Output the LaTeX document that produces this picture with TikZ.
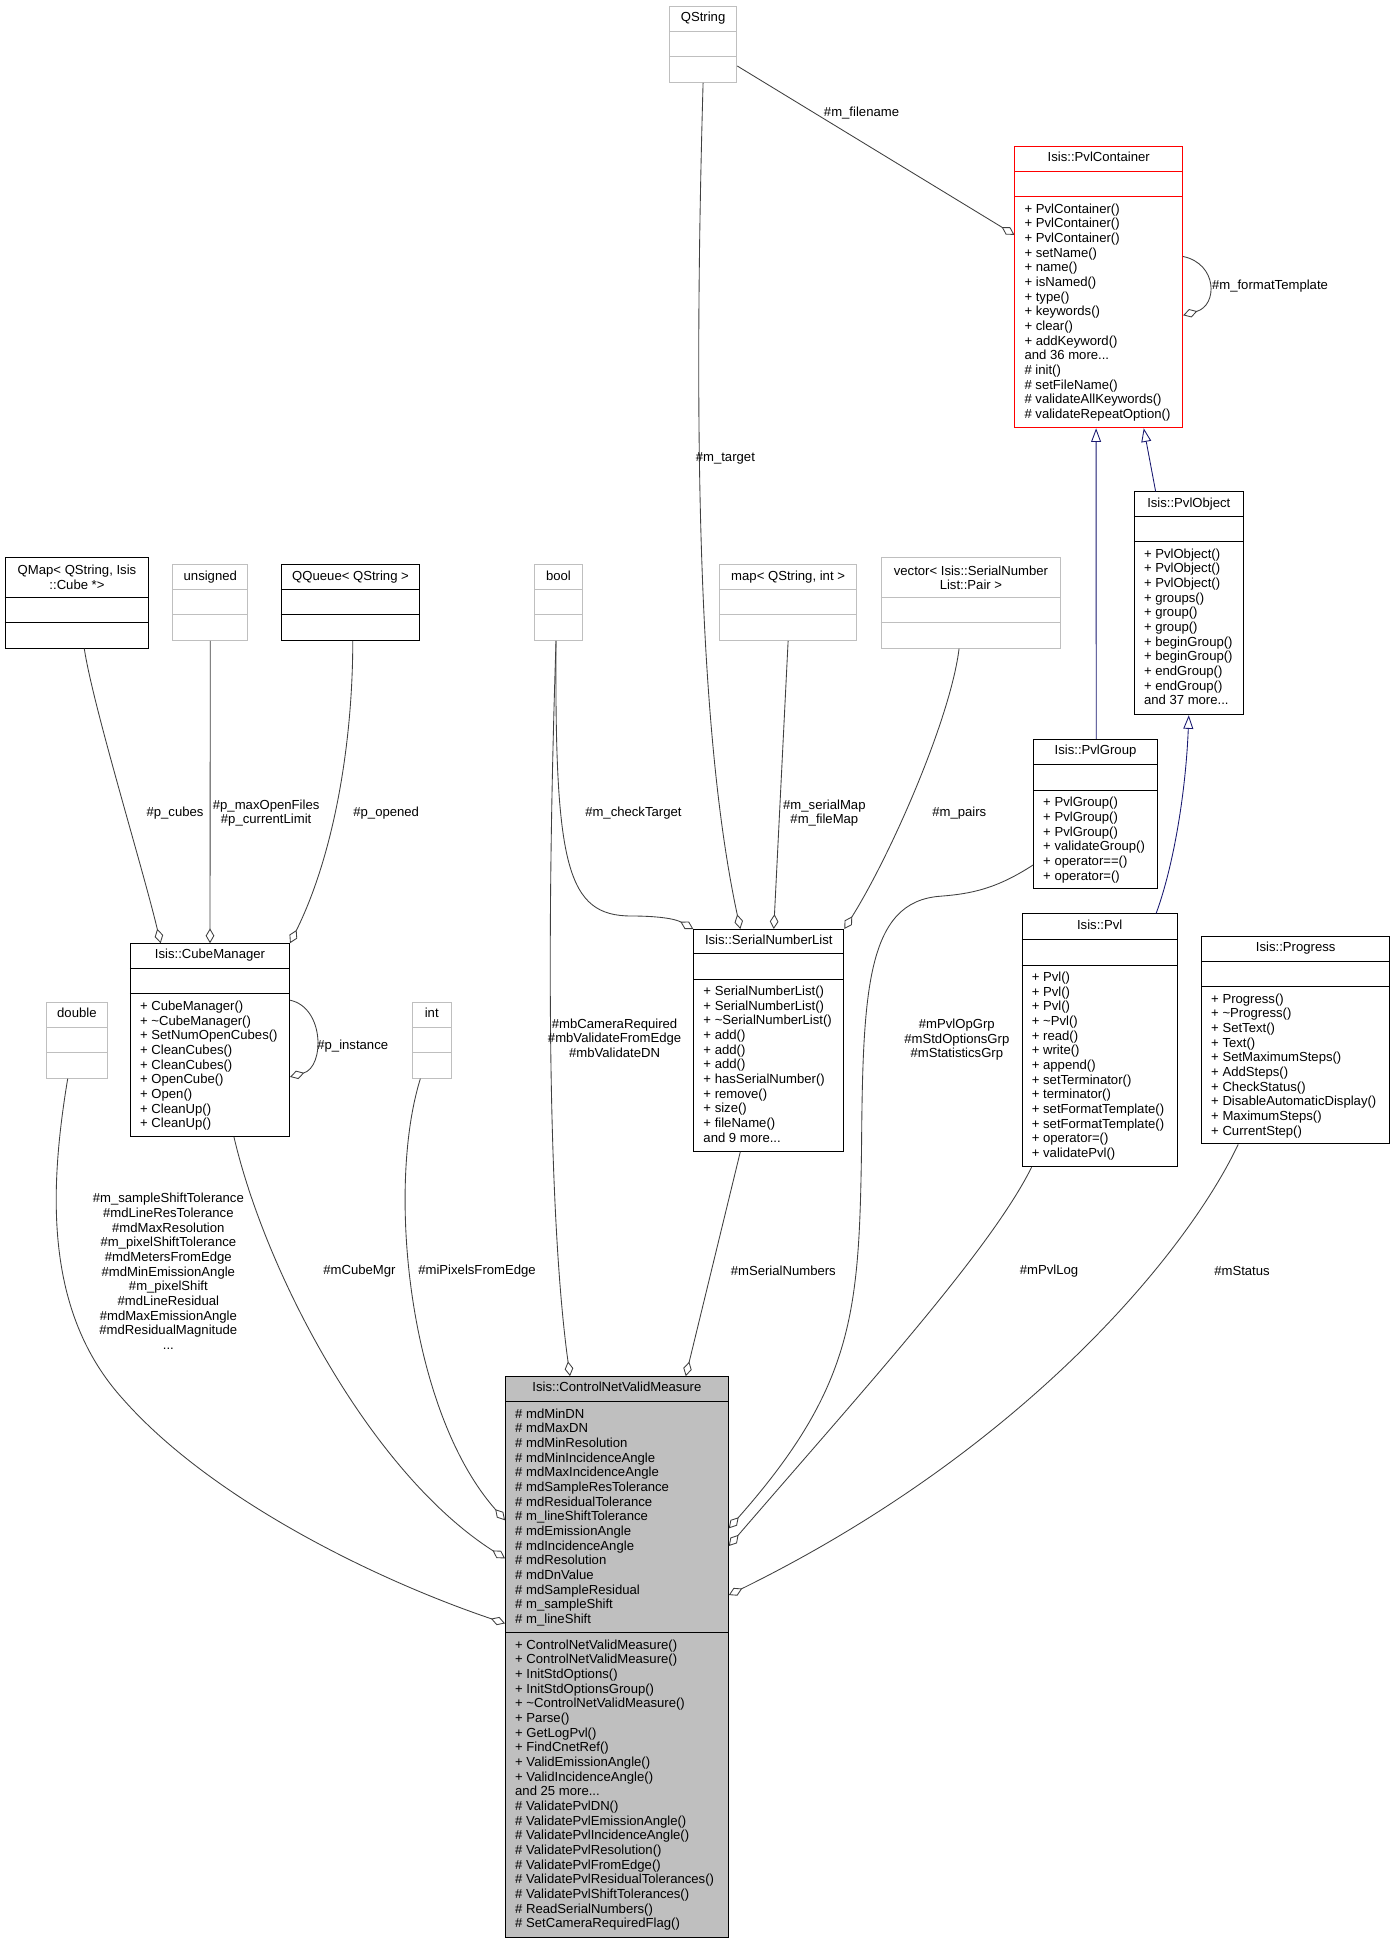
\documentclass[tikz,border=0pt]{standalone}
\usepackage{fontspec}
\setmainfont{Liberation Sans}
\usepackage{tikz}
\usetikzlibrary{arrows.meta,calc,positioning}

\definecolor{edgegray}{HTML}{404040}
\definecolor{inhblue}{HTML}{191970}
\definecolor{boxgray}{HTML}{BFBFBF}
\newcommand{\umlfont}{\fontsize{10.6}{11.85}\selectfont}

\tikzset{
  cls/.style={draw=black, line width=0.8pt, inner sep=0pt, anchor=north west},
  undoc/.style={cls, draw=boxgray},
  redcls/.style={cls, draw=red},
  rootcls/.style={cls, fill=boxgray},
  clstitle/.style={inner sep=0pt, align=center, font=\umlfont},
  clsbody/.style={inner sep=0pt, align=left, anchor=north west, font=\umlfont},
  lbl/.style={inner sep=0pt, align=center, font=\umlfont},
  aggr/.style={draw=edgegray, line width=0.7pt, -{Diamond[open,length=12pt,width=7pt]}},
  inh/.style={draw=inhblue, line width=0.7pt, -{Triangle[open,length=11pt,width=8pt]}}
}

% #1 style, #2 name, #3 left, #4 top, #5 width, #6 #7 #8 heights of the parts, #9 title
\newcommand{\classbox}[9]{%
  \node[#1, minimum width=#5pt, minimum height={#6+#7+#8}] (#2) at (#3,-#4) {};
  \draw[#1] ($(#2.north west)+(0,-#6)$) -- ($(#2.north east)+(0,-#6)$);
  \draw[#1] ($(#2.north west)+(0,-#6-#7)$) -- ($(#2.north east)+(0,-#6-#7)$);
  \node[clstitle] (#2-t) at ($(#2.north)+(0,-#6/2)$) {\strut #9};
}

\begin{document}
\begin{tikzpicture}[x=1pt,y=1pt]
\useasboundingbox (0,0) rectangle (1127,-1569.7);

% classes
\classbox{undoc}{qstr}{540.4}{4.6}{54.4}{20.7}{20.5}{20.4}{QString}
\classbox{redcls}{pvlc}{819.5}{117.7}{135.5}{20.7}{20.5}{186.3}{Isis::PvlContainer}
\classbox{cls}{pvlo}{916}{397}{88}{20.6}{20}{139.4}{Isis::PvlObject}
\classbox{cls}{pvlg}{834.6}{597}{100.1}{20.3}{21}{79.2}{Isis::PvlGroup}
\classbox{cls}{pvl}{825.4}{737.9}{125.2}{20.7}{21}{162.6}{Isis::Pvl}
\classbox{cls}{prog}{970.3}{755.9}{152.1}{20.5}{20.7}{126.6}{Isis::Progress}
\classbox{cls}{snl}{560.1}{750.5}{121.2}{19.7}{20.7}{138.7}{Isis::SerialNumberList}
\classbox{cls}{cubem}{105}{762}{128.5}{20.6}{20.4}{114.7}{Isis::CubeManager}
\classbox{cls}{qmap}{3.8}{449.7}{116}{32.9}{20.2}{20.4}{QMap< QString, Isis\\::Cube *>}
\classbox{undoc}{unsig}{139.2}{455.9}{60.6}{20.7}{20.2}{20.2}{unsigned}
\classbox{cls}{qqueue}{226.8}{455.9}{112}{20.7}{20.2}{20.2}{QQueue< QString >}
\classbox{undoc}{boolt}{431.8}{455.9}{38}{20.7}{20.2}{20.2}{bool}
\classbox{undoc}{mapt}{580.8}{455.9}{111}{20.7}{20.2}{20.2}{map< QString, int >}
\classbox{undoc}{vect}{711.5}{450.3}{145}{32.3}{20.4}{20.2}{vector< Isis::SerialNumber\\List::Pair >}
\classbox{undoc}{intt}{332.7}{809.2}{31.4}{20.5}{20.5}{20.4}{int}
\classbox{undoc}{dbl}{37.2}{809.2}{49}{20.5}{20.5}{20.4}{double}
\classbox{rootcls}{cnvm}{408}{1111.7}{180}{20.7}{186.6}{245.7}{Isis::ControlNetValidMeasure}

% members
\node[clsbody] (pvlc-m) at ($(pvlc.north west)+(8,-46.7)$) {+ PvlContainer()\\+ PvlContainer()\\+ PvlContainer()\\+ setName()\\+ name()\\+ isNamed()\\+ type()\\+ keywords()\\+ clear()\\+ addKeyword()\\and 36 more...\\\# init()\\\# setFileName()\\\# validateAllKeywords()\\\# validateRepeatOption()};
\node[clsbody] (pvlo-m) at ($(pvlo.north west)+(8,-46.1)$) {+ PvlObject()\\+ PvlObject()\\+ PvlObject()\\+ groups()\\+ group()\\+ group()\\+ beginGroup()\\+ beginGroup()\\+ endGroup()\\+ endGroup()\\and 37 more...};
\node[clsbody] (pvlg-m) at ($(pvlg.north west)+(8,-46.8)$) {+ PvlGroup()\\+ PvlGroup()\\+ PvlGroup()\\+ validateGroup()\\+ operator==()\\+ operator=()};
\node[clsbody] (pvl-m) at ($(pvl.north west)+(8,-47.2)$) {+ Pvl()\\+ Pvl()\\+ Pvl()\\+ \textasciitilde Pvl()\\+ read()\\+ write()\\+ append()\\+ setTerminator()\\+ terminator()\\+ setFormatTemplate()\\+ setFormatTemplate()\\+ operator=()\\+ validatePvl()};
\node[clsbody] (prog-m) at ($(prog.north west)+(8,-46.7)$) {+ Progress()\\+ \textasciitilde Progress()\\+ SetText()\\+ Text()\\+ SetMaximumSteps()\\+ AddSteps()\\+ CheckStatus()\\+ DisableAutomaticDisplay()\\+ MaximumSteps()\\+ CurrentStep()};
\node[clsbody] (snl-m) at ($(snl.north west)+(8,-45.9)$) {+ SerialNumberList()\\+ SerialNumberList()\\+ \textasciitilde SerialNumberList()\\+ add()\\+ add()\\+ add()\\+ hasSerialNumber()\\+ remove()\\+ size()\\+ fileName()\\and 9 more...};
\node[clsbody] (cubem-m) at ($(cubem.north west)+(8,-46.5)$) {+ CubeManager()\\+ \textasciitilde CubeManager()\\+ SetNumOpenCubes()\\+ CleanCubes()\\+ CleanCubes()\\+ OpenCube()\\+ Open()\\+ CleanUp()\\+ CleanUp()};
\node[clsbody] (cnvm-a) at ($(cnvm.north west)+(8,-26.2)$) {\# mdMinDN\\\# mdMaxDN\\\# mdMinResolution\\\# mdMinIncidenceAngle\\\# mdMaxIncidenceAngle\\\# mdSampleResTolerance\\\# mdResidualTolerance\\\# m\_lineShiftTolerance\\\# mdEmissionAngle\\\# mdIncidenceAngle\\\# mdResolution\\\# mdDnValue\\\# mdSampleResidual\\\# m\_sampleShift\\\# m\_lineShift};
\node[clsbody] (cnvm-m) at ($(cnvm.north west)+(8,-212.8)$) {+ ControlNetValidMeasure()\\+ ControlNetValidMeasure()\\+ InitStdOptions()\\+ InitStdOptionsGroup()\\+ \textasciitilde ControlNetValidMeasure()\\+ Parse()\\+ GetLogPvl()\\+ FindCnetRef()\\+ ValidEmissionAngle()\\+ ValidIncidenceAngle()\\and 25 more...\\\# ValidatePvlDN()\\\# ValidatePvlEmissionAngle()\\\# ValidatePvlIncidenceAngle()\\\# ValidatePvlResolution()\\\# ValidatePvlFromEdge()\\\# ValidatePvlResidualTolerances()\\\# ValidatePvlShiftTolerances()\\\# ReadSerialNumbers()\\\# SetCameraRequiredFlag()};

% inheritance
\draw[inh] ($(pvlg.north west)+(51,0)$) -- ($(pvlc.south west)+(66,0)$);
\draw[inh] ($(pvlo.north west)+(17.6,0)$) -- ($(pvlc.south west)+(104.5,0)$);
\draw[inh] ($(pvl.north west)+(108.6,0)$) .. controls (948,-700) and (958,-640) .. (pvlo.south);

% members used
\draw[aggr] ($(qstr.south east)+(0,13.7)$) -- ($(pvlc.north west)+(0,-72)$);
\draw[aggr] ($(pvlc.north east)+(0,-89.5)$) .. controls +(28,-6) and +(28,8) .. ($(pvlc.north east)+(0,-137)$);
\draw[aggr] (qstr.south) .. controls (558,-420) and (570,-620) .. ($(snl.north west)+(38,0)$);
\draw[aggr] ($(qmap.south west)+(64.3,0)$) .. controls (75,-570) and (115,-700) .. ($(cubem.north west)+(24.8,0)$);
\draw[aggr] (unsig.south) -- (cubem.north);
\draw[aggr] ($(qqueue.south)+(1.8,0)$) .. controls (285,-600) and (270,-690) .. (cubem.north east);
\draw[aggr] ($(cubem.north east)+(0,-46)$) .. controls +(28,-6) and +(28,8) .. ($(cubem.north east)+(0,-108)$);
\draw[aggr] ($(boolt.south)+(-2,0)$) .. controls (448,-700) and (458,-740) .. (510,-740) .. controls (530,-740) and (545,-742) .. (snl.north west);
\draw[aggr] (mapt.south) -- ($(snl.north)+(4,0)$);
\draw[aggr] ($(vect.south)+(-9.6,0)$) .. controls (768,-580) and (720,-690) .. (snl.north east);
\draw[aggr] ($(dbl.south west)+(17.5,0)$) .. controls (40,-960) and (35,-1060) .. (100,-1131) .. controls (170,-1210) and (300,-1275) .. ($(cnvm.north west)+(0,-199.8)$);
\draw[aggr] ($(cubem.south west)+(84,0)$) .. controls (215,-1030) and (300,-1190) .. ($(cnvm.north west)+(0,-147.3)$);
\draw[aggr] ($(intt.south west)+(6.9,0)$) .. controls (312,-960) and (330,-1140) .. ($(cnvm.north west)+(0,-116.5)$);
\draw[aggr] ($(boolt.south)+(-2,0)$) .. controls (440,-800) and (445,-1000) .. ($(cnvm.north west)+(52.5,0)$);
\draw[aggr] ($(snl.south west)+(38,0)$) -- ($(cnvm.north west)+(146,0)$);
\draw[aggr] ($(pvlg.north west)+(0,-101.8)$) .. controls (805,-718) and (785,-722) .. (760,-724) .. controls (700,-728) and (697,-800) .. (696,-929) .. controls (694,-1060) and (690,-1120) .. ($(cnvm.north east)+(0,-123)$);
\draw[aggr] ($(pvl.south west)+(8,0)$) .. controls (800,-1010) and (700,-1120) .. ($(cnvm.north east)+(0,-137.3)$);
\draw[aggr] ($(prog.south west)+(30,0)$) .. controls (960,-1010) and (830,-1170) .. ($(cnvm.north east)+(0,-176.9)$);

% labels
\node[lbl] (lFilename) at (696,-91) {\#m\_filename};
\node[lbl] (lFormat) at (1026,-231) {\#m\_formatTemplate};
\node[lbl] (lTarget) at (586,-370) {\#m\_target};
\node[lbl] (lCubes) at (141.4,-656.5) {\#p\_cubes};
\node[lbl] (lMaxOpen) at (215,-657) {\#p\_maxOpenFiles\\\#p\_currentLimit};
\node[lbl] (lOpened) at (312,-656.5) {\#p\_opened};
\node[lbl] (lInstance) at (285,-845) {\#p\_instance};
\node[lbl] (lCheck) at (511.7,-656.5) {\#m\_checkTarget};
\node[lbl] (lSerialMap) at (666,-657) {\#m\_serialMap\\\#m\_fileMap};
\node[lbl] (lPairs) at (775,-656.5) {\#m\_pairs};
\node[lbl] (lCamera) at (496.5,-838.7) {\#mbCameraRequired\\\#mbValidateFromEdge\\\#mbValidateDN};
\node[lbl] (lGrp) at (773,-840) {\#mPvlOpGrp\\\#mStdOptionsGrp\\\#mStatisticsGrp};
\node[lbl] (lDouble) at (136,-1027) {\#m\_sampleShiftTolerance\\\#mdLineResTolerance\\\#mdMaxResolution\\\#m\_pixelShiftTolerance\\\#mdMetersFromEdge\\\#mdMinEmissionAngle\\\#m\_pixelShift\\\#mdLineResidual\\\#mdMaxEmissionAngle\\\#mdResidualMagnitude\\...};
\node[lbl] (lCubeMgr) at (290.4,-1026.6) {\#mCubeMgr};
\node[lbl] (lPixels) at (385.4,-1026.6) {\#miPixelsFromEdge};
\node[lbl] (lSerialNum) at (632.8,-1026.6) {\#mSerialNumbers};
\node[lbl] (lPvlLog) at (847.5,-1026.6) {\#mPvlLog};
\node[lbl] (lStatus) at (1003.4,-1026.6) {\#mStatus};
\end{tikzpicture}
\end{document}
